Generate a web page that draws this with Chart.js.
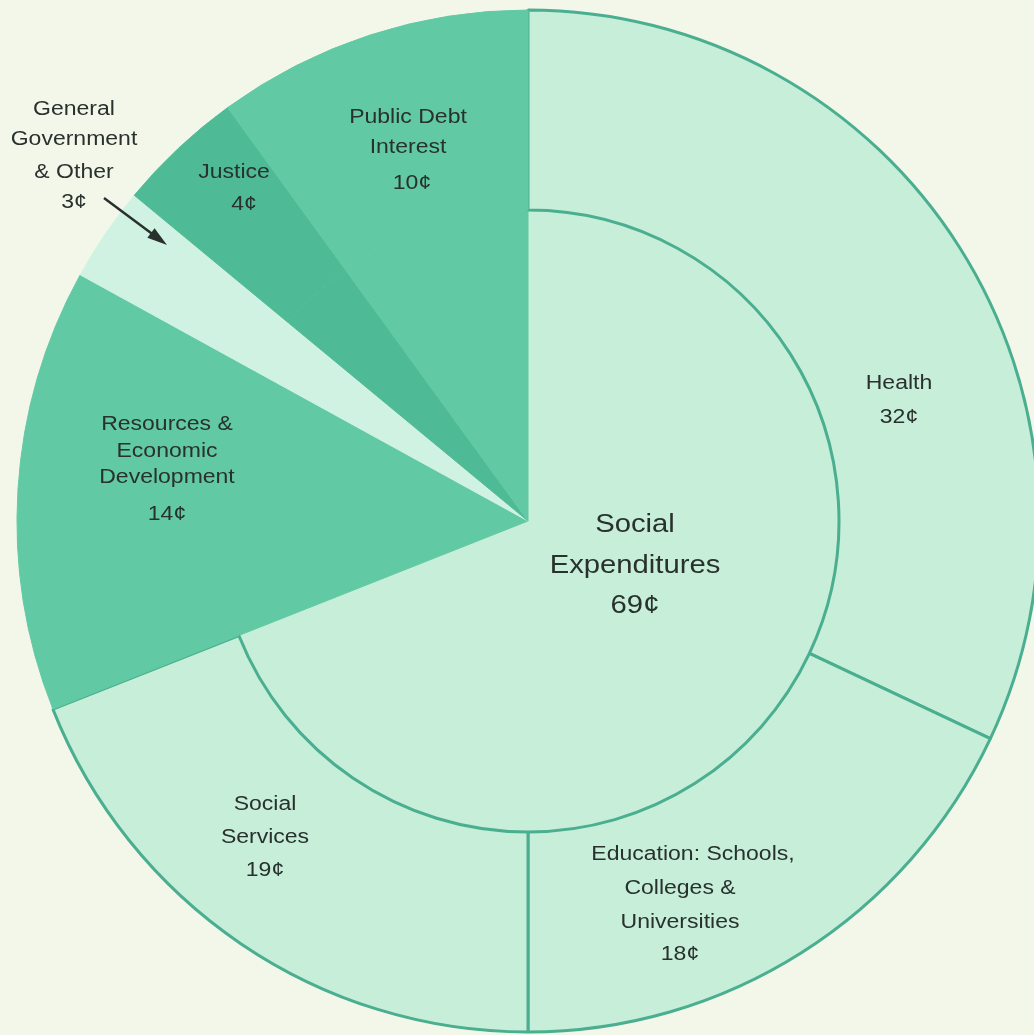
<!DOCTYPE html>
<html>
<head>
<meta charset="utf-8">
<title>Where the Tax Dollar Goes</title>
<script src="https://cdn.jsdelivr.net/npm/chart.js@4.4.1/dist/chart.umd.min.js"></script>
<style>
  html, body { margin: 0; padding: 0; background: #f3f7e9; overflow: hidden; }
  canvas { display: block; }
</style>
</head>
<body>
<canvas id="budget" width="1034" height="1035"></canvas>
<script>
// Spending categories, clockwise from twelve o'clock, in cents per dollar
const categories = [
  'Health',
  'Education: Schools, Colleges & Universities',
  'Social Services',
  'Resources & Economic Development',
  'General Government & Other',
  'Justice',
  'Public Debt Interest'
];
const cents = [32, 18, 19, 14, 3, 4, 10];
// How many leading categories make up the social block
const socialCount = 3;
const socialTitle = ['Social', 'Expenditures'];
// Text lines printed for each category (the value line is added from cents)
const labelLines = [
  ['Health'],
  ['Education: Schools,', 'Colleges &', 'Universities'],
  ['Social', 'Services'],
  ['Resources &', 'Economic', 'Development'],
  ['General', 'Government', '& Other'],
  ['Justice'],
  ['Public Debt', 'Interest']
];

// ---- derived series ----
const socialTotal = cents.slice(0, socialCount).reduce((a, b) => a + b, 0);
const innerValues = [socialTotal, ...cents.slice(socialCount)];

// ---- styling ----
const MINT = '#c6eed9';
const PALE = '#d0f2e2';
const GREEN = '#62c9a5';
const DARK = '#4fbb96';
const TEAL = '#4aae90';
const INK = '#28312d';
const FONT = '"Liberation Sans", Arial, Helvetica, sans-serif';

const sliceFill = [MINT, MINT, MINT, GREEN, PALE, DARK, GREEN];
const outerBorderColor = sliceFill.map((c, i) => i < socialCount ? TEAL : c);
const outerBorderWidth = sliceFill.map((c, i) => i < socialCount ? 3 : 1);
const innerFill = [MINT, ...sliceFill.slice(socialCount)];
const innerBorderColor = innerFill;
const innerBorderWidth = innerFill.map((c, i) => i === 0 ? 0 : 1);

// Text placement, as offsets from the pie centre: x is the line centre,
// ys are the baselines of each line (last one is the value line).
const labelPlacement = [
  { x: 371,  ys: [-132, -98] },
  { x: 152,  ys: [339, 373, 407, 439], shift: [13, 0, 0, 0] },
  { x: -263, ys: [289, 322, 355] },
  { x: -361, ys: [-91, -64, -38, -1] },
  { x: -454, ys: [-406, -376, -343, -313] },
  { x: -294, ys: [-343, -311], shift: [0, 10] },
  { x: -120, ys: [-398, -368, -332], shift: [0, 0, 4] }
];
const centrePlacement = { x: 107, ys: [11, 52, 92] };
const arrowPath = { from: [-424, -323], to: [-361, -276] };

const sliceText = {
  id: 'sliceText',
  afterDraw(chart) {
    const first = chart.getDatasetMeta(0).data[0];
    const cx = first.x, cy = first.y;
    const ctx = chart.ctx;
    ctx.save();
    ctx.fillStyle = INK;
    ctx.textAlign = 'center';
    ctx.textBaseline = 'alphabetic';
    // the type is set slightly extended (wider than regular)
    const put = (s, x, y, size, stretch) => {
      ctx.save();
      ctx.font = size + 'px ' + FONT;
      ctx.translate(cx + x, cy + y);
      ctx.scale(stretch, 1);
      ctx.fillText(s, 0, 0);
      ctx.restore();
    };

    labelLines.forEach((lines, i) => {
      const p = labelPlacement[i];
      const all = [...lines, cents[i] + '¢'];
      all.forEach((s, k) => {
        const dx = p.shift ? p.shift[k] : 0;
        put(s, p.x + dx, p.ys[k], 20, 1.15);
      });
    });

    const centreLines = [...socialTitle, socialTotal + '¢'];
    centreLines.forEach((s, k) => {
      put(s, centrePlacement.x, centrePlacement.ys[k], 25, 1.17);
    });

    // pointer from the small slice's label into its wedge
    const [x0, y0] = arrowPath.from, [x1, y1] = arrowPath.to;
    const ang = Math.atan2(y1 - y0, x1 - x0);
    ctx.strokeStyle = INK;
    ctx.lineWidth = 2.5;
    ctx.beginPath();
    ctx.moveTo(cx + x0, cy + y0);
    ctx.lineTo(cx + x1 - 12 * Math.cos(ang), cy + y1 - 12 * Math.sin(ang));
    ctx.stroke();
    ctx.beginPath();
    ctx.moveTo(cx + x1, cy + y1);
    ctx.lineTo(cx + x1 - 20 * Math.cos(ang) + 6 * Math.sin(ang), cy + y1 - 20 * Math.sin(ang) - 6 * Math.cos(ang));
    ctx.lineTo(cx + x1 - 20 * Math.cos(ang) - 6 * Math.sin(ang), cy + y1 - 20 * Math.sin(ang) + 6 * Math.cos(ang));
    ctx.closePath();
    ctx.fill();
    ctx.restore();
  }
};

new Chart(document.getElementById('budget'), {
  type: 'doughnut',
  data: {
    labels: categories,
    datasets: [
      {
        label: 'Categories',
        data: cents,
        weight: 200,
        backgroundColor: sliceFill,
        borderColor: outerBorderColor,
        borderWidth: outerBorderWidth,
        hoverOffset: 0,
        clip: false
      },
      {
        label: 'Groups',
        data: innerValues,
        weight: 311,
        backgroundColor: innerFill,
        borderColor: innerBorderColor,
        borderWidth: innerBorderWidth,
        hoverOffset: 0,
        clip: false
      }
    ]
  },
  options: {
    responsive: false,
    animation: false,
    devicePixelRatio: 1,
    events: [],
    cutout: 0,
    radius: 511,
    rotation: 0,
    layout: { padding: { left: 22, right: 0, top: 7, bottom: 0 } },
    plugins: {
      legend: { display: false },
      tooltip: { enabled: false },
      title: { display: false }
    }
  },
  plugins: [sliceText]
});
</script>
</body>
</html>
